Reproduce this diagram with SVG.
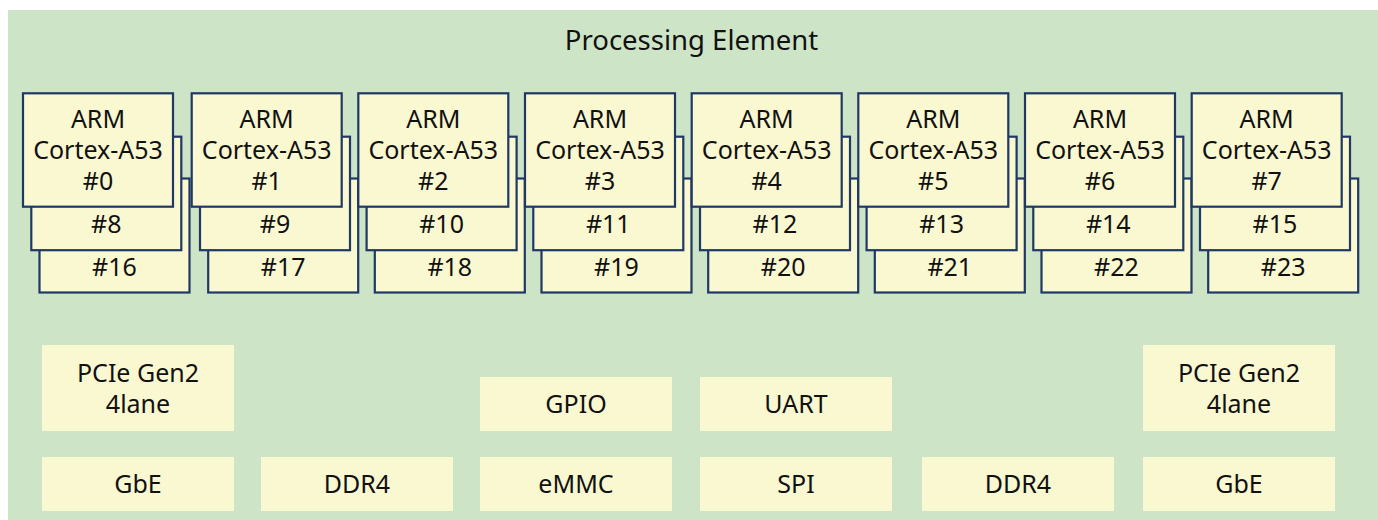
<svg xmlns="http://www.w3.org/2000/svg" width="1378" height="520" viewBox="0 0 1378 520">
<style>
.bg{fill:#cde5c6}
.core{fill:#faf8d0;stroke:#1f3864;stroke-width:2.2}
.blk{fill:#faf8d0}
text{font-family:"Noto Sans","Open Sans","DejaVu Sans",sans-serif;font-size:25px;fill:#111;text-anchor:middle}
.title{font-size:27.5px}
</style>
<rect class="bg" x="8" y="10" width="1370" height="510"/>
<g id="pe-title"><text class="title" x="691.5" y="50">Processing Element</text></g>
<g id="cores">
<g id="col0" transform="translate(23,0)">
<g id="core16"><rect class="core" x="16.5" y="178.5" width="150" height="114"/><text x="91.5" y="275.7">#16</text></g>
<g id="core8"><rect class="core" x="8.3" y="136.7" width="150" height="113.5"/><text x="83.3" y="233.3">#8</text></g>
<g id="core0"><rect class="core" x="0" y="93.3" width="150" height="113.4"/><text x="75" y="128.3">ARM</text><text x="75" y="159.3">Cortex-A53</text><text x="75" y="190.3">#0</text></g>
</g>
<g id="col1" transform="translate(191.7,0)">
<g id="core17"><rect class="core" x="16.5" y="178.5" width="150" height="114"/><text x="91.5" y="275.7">#17</text></g>
<g id="core9"><rect class="core" x="8.3" y="136.7" width="150" height="113.5"/><text x="83.3" y="233.3">#9</text></g>
<g id="core1"><rect class="core" x="0" y="93.3" width="150" height="113.4"/><text x="75" y="128.3">ARM</text><text x="75" y="159.3">Cortex-A53</text><text x="75" y="190.3">#1</text></g>
</g>
<g id="col2" transform="translate(358.3,0)">
<g id="core18"><rect class="core" x="16.5" y="178.5" width="150" height="114"/><text x="91.5" y="275.7">#18</text></g>
<g id="core10"><rect class="core" x="8.3" y="136.7" width="150" height="113.5"/><text x="83.3" y="233.3">#10</text></g>
<g id="core2"><rect class="core" x="0" y="93.3" width="150" height="113.4"/><text x="75" y="128.3">ARM</text><text x="75" y="159.3">Cortex-A53</text><text x="75" y="190.3">#2</text></g>
</g>
<g id="col3" transform="translate(525,0)">
<g id="core19"><rect class="core" x="16.5" y="178.5" width="150" height="114"/><text x="91.5" y="275.7">#19</text></g>
<g id="core11"><rect class="core" x="8.3" y="136.7" width="150" height="113.5"/><text x="83.3" y="233.3">#11</text></g>
<g id="core3"><rect class="core" x="0" y="93.3" width="150" height="113.4"/><text x="75" y="128.3">ARM</text><text x="75" y="159.3">Cortex-A53</text><text x="75" y="190.3">#3</text></g>
</g>
<g id="col4" transform="translate(691.7,0)">
<g id="core20"><rect class="core" x="16.5" y="178.5" width="150" height="114"/><text x="91.5" y="275.7">#20</text></g>
<g id="core12"><rect class="core" x="8.3" y="136.7" width="150" height="113.5"/><text x="83.3" y="233.3">#12</text></g>
<g id="core4"><rect class="core" x="0" y="93.3" width="150" height="113.4"/><text x="75" y="128.3">ARM</text><text x="75" y="159.3">Cortex-A53</text><text x="75" y="190.3">#4</text></g>
</g>
<g id="col5" transform="translate(858.3,0)">
<g id="core21"><rect class="core" x="16.5" y="178.5" width="150" height="114"/><text x="91.5" y="275.7">#21</text></g>
<g id="core13"><rect class="core" x="8.3" y="136.7" width="150" height="113.5"/><text x="83.3" y="233.3">#13</text></g>
<g id="core5"><rect class="core" x="0" y="93.3" width="150" height="113.4"/><text x="75" y="128.3">ARM</text><text x="75" y="159.3">Cortex-A53</text><text x="75" y="190.3">#5</text></g>
</g>
<g id="col6" transform="translate(1025,0)">
<g id="core22"><rect class="core" x="16.5" y="178.5" width="150" height="114"/><text x="91.5" y="275.7">#22</text></g>
<g id="core14"><rect class="core" x="8.3" y="136.7" width="150" height="113.5"/><text x="83.3" y="233.3">#14</text></g>
<g id="core6"><rect class="core" x="0" y="93.3" width="150" height="113.4"/><text x="75" y="128.3">ARM</text><text x="75" y="159.3">Cortex-A53</text><text x="75" y="190.3">#6</text></g>
</g>
<g id="col7" transform="translate(1191.7,0)">
<g id="core23"><rect class="core" x="16.5" y="178.5" width="150" height="114"/><text x="91.5" y="275.7">#23</text></g>
<g id="core15"><rect class="core" x="8.3" y="136.7" width="150" height="113.5"/><text x="83.3" y="233.3">#15</text></g>
<g id="core7"><rect class="core" x="0" y="93.3" width="150" height="113.4"/><text x="75" y="128.3">ARM</text><text x="75" y="159.3">Cortex-A53</text><text x="75" y="190.3">#7</text></g>
</g>
</g>
<g id="pcie-left"><rect class="blk" x="42" y="345" width="192" height="86"/><text x="138" y="381.7">PCIe Gen2</text><text x="138" y="412.7">4lane</text></g>
<g id="gpio"><rect class="blk" x="480" y="377" width="192" height="54"/><text x="576" y="413.3">GPIO</text></g>
<g id="uart"><rect class="blk" x="700" y="377" width="192" height="54"/><text x="796" y="413.3">UART</text></g>
<g id="pcie-right"><rect class="blk" x="1143" y="345" width="192" height="86"/><text x="1239" y="381.7">PCIe Gen2</text><text x="1239" y="412.7">4lane</text></g>
<g id="gbe-left"><rect class="blk" x="42" y="457" width="192" height="54"/><text x="138" y="493.3">GbE</text></g>
<g id="ddr4-left"><rect class="blk" x="261" y="457" width="192" height="54"/><text x="357" y="493.3">DDR4</text></g>
<g id="emmc"><rect class="blk" x="480" y="457" width="192" height="54"/><text x="576" y="493.3">eMMC</text></g>
<g id="spi"><rect class="blk" x="700" y="457" width="192" height="54"/><text x="796" y="493.3">SPI</text></g>
<g id="ddr4-right"><rect class="blk" x="922" y="457" width="192" height="54"/><text x="1018" y="493.3">DDR4</text></g>
<g id="gbe-right"><rect class="blk" x="1143" y="457" width="192" height="54"/><text x="1239" y="493.3">GbE</text></g>
<g id="connectors"/>
</svg>
